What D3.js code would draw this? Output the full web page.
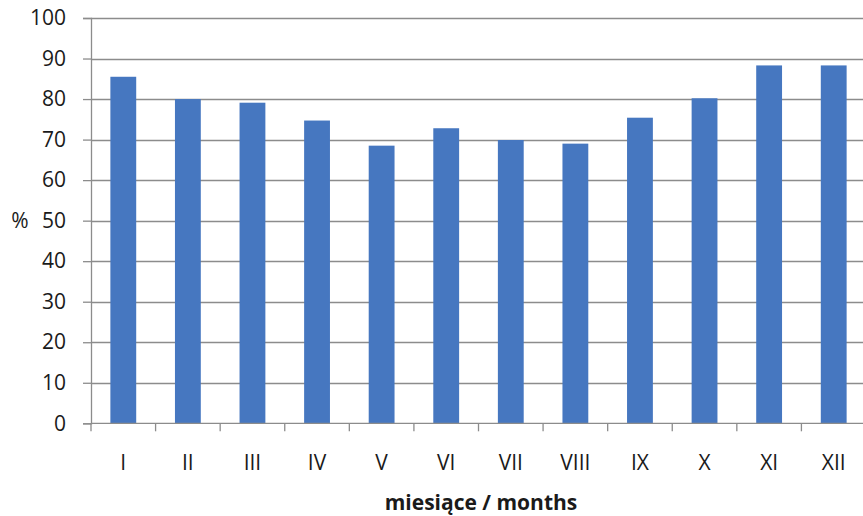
<!DOCTYPE html>
<html>
<head>
<meta charset="utf-8">
<script src="https://cdn.jsdelivr.net/npm/d3@7"></script>
<style>
  html, body { margin: 0; padding: 0; background: #fff; }
  svg { display: block; }
  text { font-family: "Open Sans", "Liberation Sans", sans-serif; fill: #1a1a1a; }
</style>
</head>
<body>
<svg id="chart" width="863" height="516"></svg>
<script>
// Monthly share (%) by month, Roman-numeral month labels
const months = ["I", "II", "III", "IV", "V", "VI", "VII", "VIII", "IX", "X", "XI", "XII"];
const values = [85.5, 80.0, 79.1, 74.7, 68.5, 72.8, 69.9, 69.0, 75.4, 80.2, 88.3, 88.3];
const yTicks = [0, 10, 20, 30, 40, 50, 60, 70, 80, 90, 100];
const yLabel = "%";
const xLabel = "miesiące / months";

const svg = d3.select("#chart");
const plotLeft = 91, plotRight = 866, plotTop = 18, plotBottom = 423.3;

const x = d3.scaleBand()
  .domain(months)
  .range([plotLeft, plotRight])
  .paddingInner(0.6)
  .paddingOuter(0.3);

const y = d3.scaleLinear().domain([0, 100]).range([plotBottom, plotTop]);

const gridColor = "#8c8c8c";

// horizontal gridlines
svg.append("g")
  .selectAll("line")
  .data(yTicks.filter(d => d > 0))
  .join("line")
  .attr("x1", plotLeft).attr("x2", 863)
  .attr("y1", d => Math.round(y(d)) + 0.5)
  .attr("y2", d => Math.round(y(d)) + 0.5)
  .attr("stroke", gridColor).attr("stroke-width", 1.3);

// bars
svg.append("g")
  .selectAll("rect")
  .data(values)
  .join("rect")
  .attr("x", (d, i) => x(months[i]))
  .attr("width", x.bandwidth())
  .attr("y", d => y(d))
  .attr("height", d => y(0) - y(d))
  .attr("fill", "#4677c0");

// y axis
const yAxis = d3.axisLeft(y).tickValues(yTicks).tickSize(8).tickPadding(17);
const gy = svg.append("g").attr("transform", `translate(${plotLeft},0)`).call(yAxis);
gy.select(".domain").attr("stroke", gridColor).attr("stroke-width", 1.3);
gy.selectAll(".tick line").attr("stroke", gridColor).attr("stroke-width", 1.3);
gy.selectAll(".tick text")
  .attr("font-size", 21)
  .attr("font-family", "'Open Sans', sans-serif")
  .attr("fill", "#1a1a1a");

// x axis: ticks at band boundaries
const step = x.step();
const boundaries = d3.range(months.length + 1).map(i => plotLeft + i * step);
svg.append("line")
  .attr("x1", plotLeft).attr("x2", 863)
  .attr("y1", plotBottom).attr("y2", plotBottom)
  .attr("stroke", gridColor).attr("stroke-width", 1.3);
svg.append("g")
  .selectAll("line")
  .data(boundaries)
  .join("line")
  .attr("x1", d => d).attr("x2", d => d)
  .attr("y1", plotBottom).attr("y2", plotBottom + 8)
  .attr("stroke", gridColor).attr("stroke-width", 1.3);

svg.append("g")
  .selectAll("text")
  .data(months)
  .join("text")
  .attr("x", d => x(d) + x.bandwidth() / 2)
  .attr("y", 470)
  .attr("text-anchor", "middle")
  .attr("font-size", 21)
  .text(d => d);

// axis titles
svg.append("text")
  .attr("x", 20).attr("y", 228)
  .attr("text-anchor", "middle")
  .attr("font-size", 21)
  .text(yLabel);

svg.append("text")
  .attr("x", 481).attr("y", 510)
  .attr("text-anchor", "middle")
  .attr("font-size", 21)
  .attr("font-weight", "bold")
  .text(xLabel);
</script>
</body>
</html>
